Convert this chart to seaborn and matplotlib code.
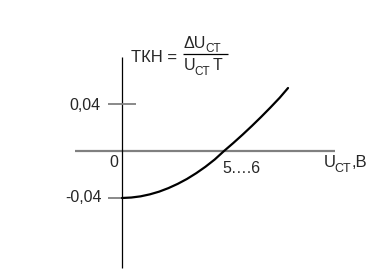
import matplotlib
matplotlib.use("Agg")
import matplotlib.pyplot as plt
from matplotlib.transforms import Affine2D
import seaborn as sns
import pandas as pd

# data (U in volts, TKH dimensionless)
u_values = [0.0, 0.5, 1.0, 1.5, 2.0, 2.5, 3.0, 3.5, 4.0, 4.5, 5.0, 5.5,
            6.0, 6.5, 7.0, 7.5, 8.0, 8.5, 8.95]
tkh_values = [-0.0400, -0.0396, -0.0386, -0.0369, -0.0346, -0.0316, -0.0280,
              -0.0238, -0.0189, -0.0134, -0.0072, 0.0,
              0.0068, 0.0139, 0.0213, 0.0290, 0.0370, 0.0453, 0.0536]
ytick_values = [0.04, -0.04]
ytick_labels = ["0,04", "-0,04"]
zero_label = "0"
cross_label = "5….6"

sns.set_style("white")
plt.rcParams['font.family'] = ['Liberation Sans', 'DejaVu Sans']

W, H = 383, 273
fig = plt.figure(figsize=(W / 100, H / 100), dpi=100)
ax = fig.add_axes([0, 0, 1, 1])
ax.set_axis_off()

# pixel mapping: x = 122 + 18.55*V, y = 151 - 1175*T
sx, x0 = 18.55, 122
sy, y0 = 1175, 151
ax.set_xlim(-x0 / sx, (W - x0) / sx)
ax.set_ylim(-(H - y0) / sy, y0 / sy)

# axes lines
ax.plot([(75 - x0) / sx, (335 - x0) / sx], [0, 0], color="#808080", lw=1.6, solid_capstyle="butt")
ax.plot([0, 0], [-(268 - y0) / sy, (y0 - 57) / sy], color="black", lw=0.9, solid_capstyle="butt")
# ticks
ax.plot([(108 - x0) / sx, (136 - x0) / sx], [ytick_values[0]] * 2, color="#808080", lw=1.3, solid_capstyle="butt")
ax.plot([(108 - x0) / sx, 0], [ytick_values[1]] * 2, color="#808080", lw=1.3, solid_capstyle="butt")

df = pd.DataFrame({"U": u_values, "TKH": tkh_values})
sns.lineplot(data=df, x="U", y="TKH", ax=ax, color="black", lw=1.6, sort=False)

tr = Affine2D().scale(1 / W, -1 / H).translate(0, 1) + fig.transFigure
fs = 11.5
ax.text(100, 110, ytick_labels[0], transform=tr, fontsize=fs, ha="right", va="baseline")
ax.text(102, 202, ytick_labels[1], transform=tr, fontsize=fs, ha="right", va="baseline")
ax.text(109, 167, zero_label, transform=tr, fontsize=fs, ha="left", va="baseline")
ax.text(222, 173, cross_label, transform=tr, fontsize=fs, ha="left", va="baseline")

# axis label U_CT,B
ax.text(324, 167, "U", transform=tr, fontsize=12, ha="left", va="baseline")
ax.text(334, 172, "CT", transform=tr, fontsize=9, ha="left", va="baseline")
ax.text(352, 167, ",B", transform=tr, fontsize=12, ha="left", va="baseline")

# formula TKH = dU_CT / (U_CT T)
ax.text(131, 62, "ТКН =", transform=tr, fontsize=12, ha="left", va="baseline")
ax.text(184, 48, "ΔU", transform=tr, fontsize=11.5, ha="left", va="baseline")
ax.text(205, 52, "CT", transform=tr, fontsize=8.5, ha="left", va="baseline")
ax.plot([(183 - x0) / sx, (228 - x0) / sx], [(y0 - 53.5) / sy] * 2, color="black", lw=0.9, solid_capstyle="butt")
ax.text(184, 70, "U", transform=tr, fontsize=11.5, ha="left", va="baseline")
ax.text(194.5, 75, "CT", transform=tr, fontsize=8.5, ha="left", va="baseline")
ax.text(213, 70, "T", transform=tr, fontsize=11.5, ha="left", va="baseline")

fig.savefig("out.png", dpi=100)
